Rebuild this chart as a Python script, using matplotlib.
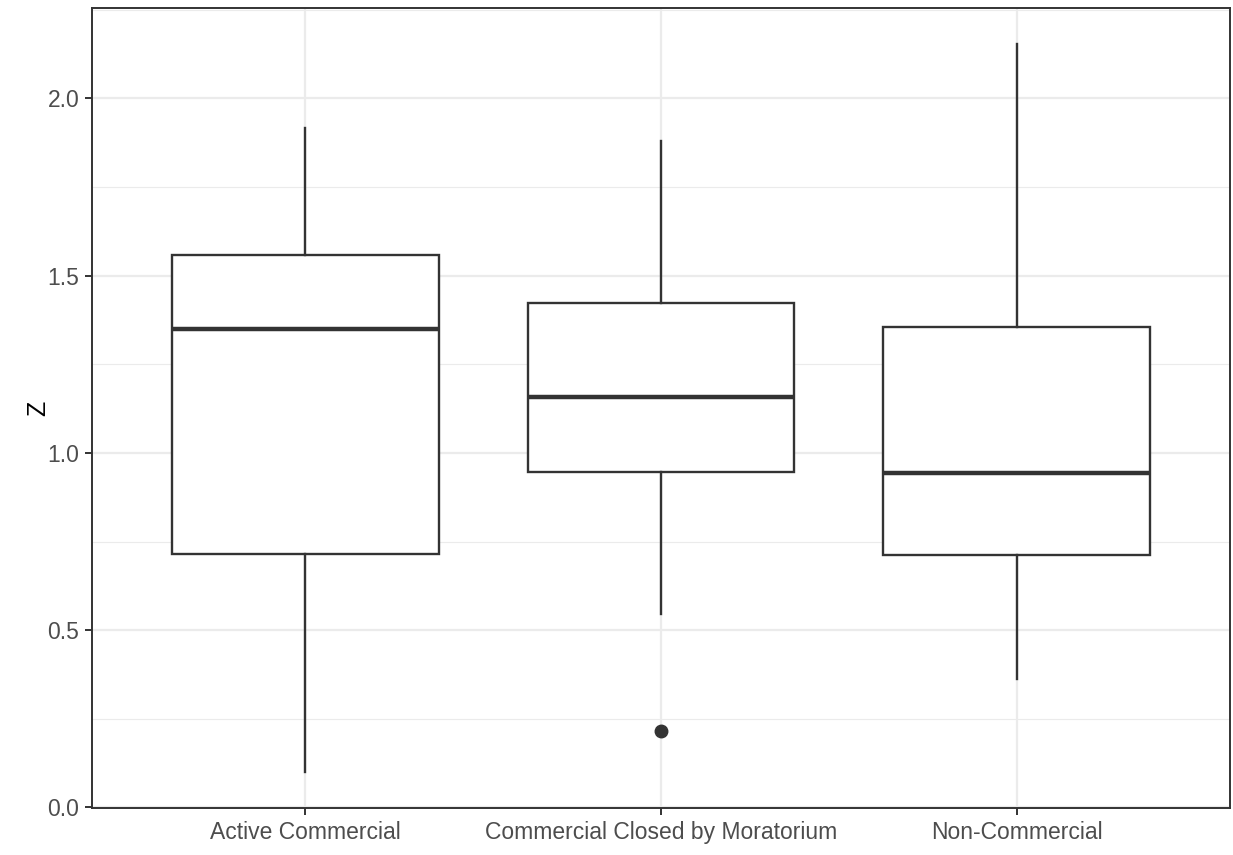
import matplotlib
matplotlib.use("Agg")
import matplotlib.pyplot as plt
from matplotlib.ticker import MultipleLocator

categories = ["Active Commercial", "Commercial Closed by Moratorium", "Non-Commercial"]
whislo = [0.101, 0.546, 0.363]
q1 = [0.715, 0.946, 0.713]
med = [1.349, 1.158, 0.944]
q3 = [1.558, 1.423, 1.355]
whishi = [1.915, 1.879, 2.152]
outliers = [[], [0.217], []]

plt.rcParams['font.family'] = ['Liberation Sans', 'DejaVu Sans']

fig = plt.figure(figsize=(12.33, 8.55), dpi=100)
ax = fig.add_axes([92/1233, 47/855, (1230-92)/1233, (808-8)/855])

stats = []
for i in range(3):
    stats.append(dict(med=med[i], q1=q1[i], q3=q3[i], whislo=whislo[i],
                      whishi=whishi[i], fliers=outliers[i], label=categories[i]))

positions = [1, 2, 3]
ax.bxp(stats, positions=positions, widths=0.75, showcaps=False, patch_artist=True,
       boxprops=dict(facecolor='white', edgecolor='#333333', linewidth=1.7),
       medianprops=dict(color='#333333', linewidth=3.2, solid_capstyle='butt'),
       whiskerprops=dict(color='#333333', linewidth=1.7),
       flierprops=dict(marker='o', markerfacecolor='#333333', markeredgecolor='#333333',
                       markersize=9),
       zorder=3)

ax.set_xlim(0.4, 3.6)
ax.set_ylim(-0.0015, 2.2546)
ax.yaxis.set_minor_locator(MultipleLocator(0.25))
ax.set_yticks([0, 0.5, 1.0, 1.5, 2.0])
ax.set_yticklabels(["0.0", "0.5", "1.0", "1.5", "2.0"])
ax.set_xticks(positions)
ax.set_xticklabels(categories)

ax.grid(which='major', color='#EBEBEB', linewidth=1.6, zorder=0)
ax.grid(which='minor', axis='y', color='#EBEBEB', linewidth=0.8, zorder=0)
ax.set_axisbelow(True)
ax.tick_params(axis='both', which='major', length=5, width=1.4, color='#333333',
               labelcolor='#4D4D4D', labelsize=16.5, pad=4)
ax.tick_params(axis='y', which='minor', length=0)
for s in ax.spines.values():
    s.set_color('#333333')
    s.set_linewidth(1.4)

ax.set_ylabel("Z", fontsize=18, color='black', labelpad=-2)
fig.savefig("out.png", dpi=100, facecolor='white')
